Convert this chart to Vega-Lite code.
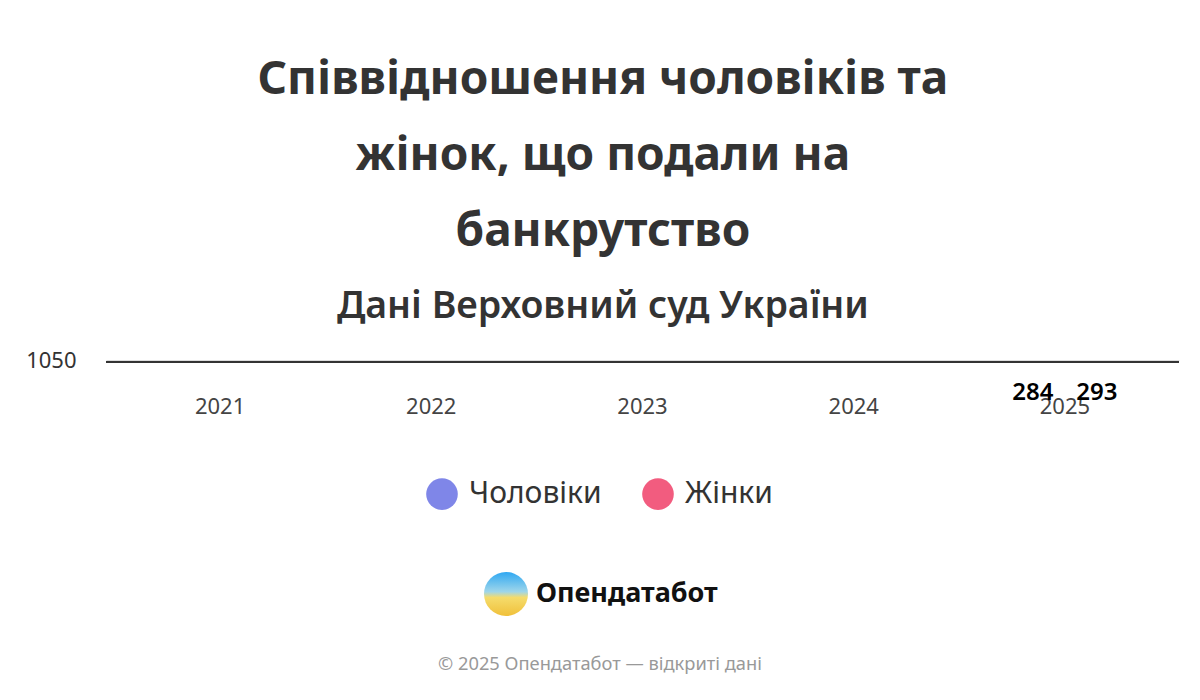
{
  "$schema": "https://vega.github.io/schema/vega-lite/v6.json",
  "background": "white",
  "padding": {"left": 25, "top": 56, "right": 15, "bottom": 0},
  "config": {
    "font": "Noto Sans",
    "view": {"stroke": null}
  },
  "title": {
    "text": ["Співвідношення чоловіків та", "жінок, що подали на", "банкрутство"],
    "subtitle": "Дані Верховний суд України",
    "anchor": "middle",
    "fontSize": 46,
    "fontWeight": "bold",
    "color": "#333333",
    "lineHeight": 76,
    "subtitleFontSize": 37.5,
    "subtitleFontWeight": 600,
    "subtitleColor": "#333333",
    "subtitlePadding": 32,
    "offset": 23
  },
  "datasets": {
    "bars": [
      {"year": "2025", "sex": "Чоловіки", "count": 284},
      {"year": "2025", "sex": "Жінки", "count": 293}
    ],
    "brand": [{"name": "Опендатабот", "footer": "© 2025 Опендатабот — відкриті дані"}]
  },
  "resolve": {"legend": {"color": "independent"}},
  "spacing": 59,
  "vconcat": [
    {
      "width": 1073,
      "height": 2,
      "data": {"name": "bars"},
      "encoding": {
        "x": {
          "field": "year",
          "type": "nominal",
          "scale": {"domain": ["2021", "2022", "2023", "2024", "2025"], "paddingInner": 0, "paddingOuter": 0.04},
          "axis": {
            "title": null,
            "labelAngle": 0,
            "labelFontSize": 22,
            "labelColor": "#444444",
            "labelPadding": 34,
            "ticks": false,
            "domain": false
          }
        },
        "xOffset": {"field": "sex", "type": "nominal", "scale": {"domain": ["Чоловіки", "Жінки"], "paddingOuter": 0.65}},
        "y": {
          "field": "count",
          "type": "quantitative",
          "scale": {"domain": [0, 1050]},
          "axis": {
            "title": null,
            "values": [1050],
            "format": "d",
            "labelFontSize": 22,
            "labelColor": "#333333",
            "labelPadding": 30,
            "ticks": false,
            "domain": false,
            "grid": true,
            "gridColor": "#dddddd"
          }
        },
        "color": {
          "field": "sex",
          "type": "nominal",
          "scale": {"domain": ["Чоловіки", "Жінки"], "range": ["#7f86e8", "#f25c7f"]},
          "legend": {
            "title": null,
            "orient": "none",
            "legendX": 320,
            "legendY": 118,
            "direction": "horizontal",
            "symbolType": "circle",
            "symbolSize": 1000,
            "symbolStrokeWidth": 0,
            "labelFontSize": 30,
            "labelColor": "#333333",
            "columnPadding": 40,
            "labelOffset": 11
          }
        }
      },
      "layer": [
        {"mark": {"type": "bar"}},
        {
          "mark": {"type": "rule", "color": "#333333", "strokeWidth": 2},
          "encoding": {"y": {"datum": 0}, "xOffset": null, "color": null, "x": null}
        },
        {
          "mark": {"type": "text", "baseline": "middle", "dy": 32, "fontSize": 24, "fontWeight": 600},
          "encoding": {"text": {"field": "count", "type": "quantitative"}, "color": {"value": "#000000"}}
        }
      ]
    },
    {
      "width": 984,
      "height": 50,
      "data": {"name": "brand"},
      "layer": [
        {
          "mark": {
            "type": "point",
            "filled": true,
            "size": 1936,
            "xOffset": -92,
            "opacity": 1,
            "color": {
              "gradient": "linear",
              "x1": 0, "y1": 0, "x2": 0, "y2": 1,
              "stops": [{"offset": 0, "color": "#2fa8f2"}, {"offset": 0.45, "color": "#9fd6ea"}, {"offset": 0.58, "color": "#f5dc6c"}, {"offset": 1, "color": "#f0c03a"}]
            }
          },
          "encoding": {}
        },
        {
          "mark": {"type": "text", "align": "left", "dx": -62, "fontSize": 27, "fontWeight": "bold", "color": "#111111"},
          "encoding": {"text": {"field": "name"}}
        },
        {
          "mark": {"type": "text", "dy": 71, "dx": 2, "fontSize": 18.3, "color": "#999999"},
          "encoding": {"text": {"field": "footer"}}
        }
      ]
    }
  ]
}
